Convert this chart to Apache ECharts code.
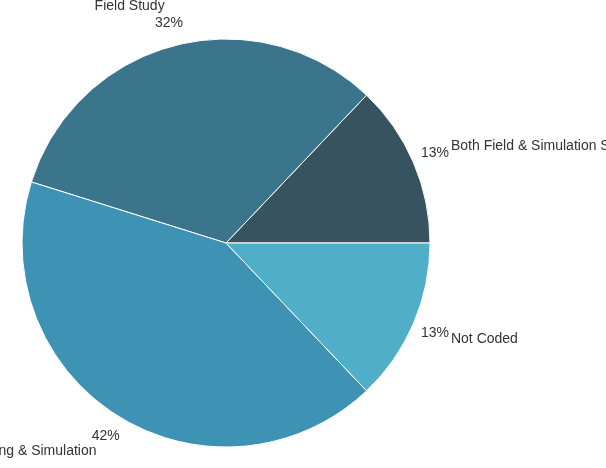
<!DOCTYPE html>
<html>
<head>
<meta charset="utf-8">
<script src="https://cdn.jsdelivr.net/npm/echarts@6/dist/echarts.min.js"></script>
<style>html,body{margin:0;padding:0;background:#fff;}#c{width:606px;height:468px;}</style>
</head>
<body>
<div id="c"></div>
<script>
var categories = ['Both Field & Simulation Studies', 'Field Study', 'Modeling & Simulation', 'Not Coded'];
var counts = [4, 10, 13, 4];
var colors = ['#37535f', '#3a758b', '#3e93b5', '#50aec9'];

var chart = echarts.init(document.getElementById('c'));
var CX = 226, CY = 243, R = 204;
var textStyle = { color: '#333333', fontSize: 14, fontFamily: 'Liberation Sans, Arial, sans-serif' };

function mk(fn) {
  return categories.map(function (c, i) { return fn(c, i); });
}

chart.setOption({
  animation: false,
  series: [
    {
      type: 'pie', center: [CX, CY], radius: R, startAngle: 0, clockwise: false, silent: true,
      label: { show: false }, labelLine: { show: false },
      itemStyle: { borderColor: '#ffffff', borderWidth: 1 },
      data: mk(function (c, i) { return { name: c, value: counts[i], itemStyle: { color: colors[i] } }; })
    },
    {
      type: 'pie', center: [CX, CY], radius: [R * 1.1 - 1, R * 1.1 + 1], startAngle: 0, clockwise: false, silent: true,
      itemStyle: { color: 'rgba(0,0,0,0)' },
      labelLayout: { hideOverlap: false },
      label: Object.assign({ show: true, position: 'inside', formatter: function (p) { return Math.round(p.percent) + '%'; } }, textStyle),
      labelLine: { show: false },
      data: mk(function (c, i) { return { name: c, value: counts[i] }; })
    },
    {
      type: 'pie', center: [CX, CY], radius: R * 1.2, startAngle: 0, clockwise: false, silent: true,
      avoidLabelOverlap: false,
      itemStyle: { color: 'rgba(0,0,0,0)' },
      labelLayout: { hideOverlap: false },
      label: Object.assign({ show: true, position: 'outside', alignTo: 'none', distanceToLabelLine: 0, formatter: '{b}' }, textStyle),
      labelLine: { show: false, length: 0, length2: 0 },
      data: mk(function (c, i) { return { name: c, value: counts[i] }; })
    }
  ]
});
</script>
</body>
</html>
